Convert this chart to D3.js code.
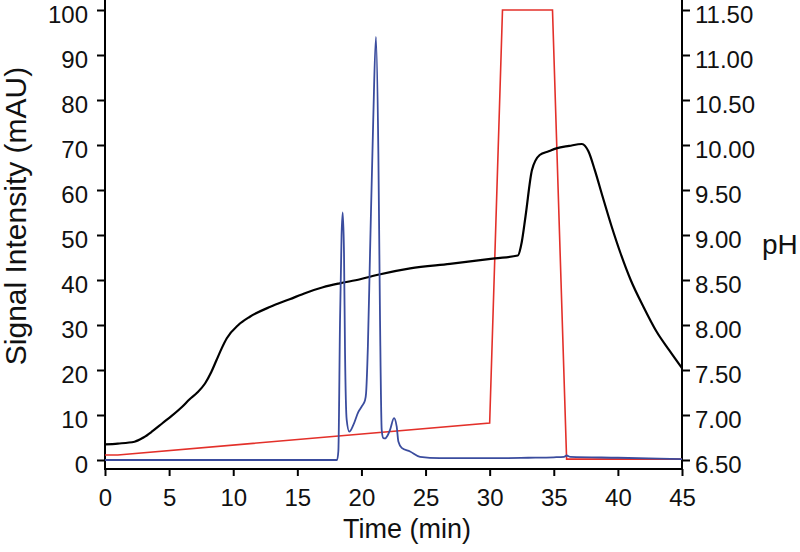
<!DOCTYPE html>
<html>
<head>
<meta charset="utf-8">
<script src="https://cdn.jsdelivr.net/npm/d3@7"></script>
<style>
  html, body { margin: 0; padding: 0; background: #fff; }
  svg { display: block; font-family: "Liberation Sans", Arial, sans-serif; }
</style>
</head>
<body>
<svg id="chart" width="800" height="552"></svg>
<script>
// ---- Data ----
const xTicks = [0, 5, 10, 15, 20, 25, 30, 35, 40, 45];
const yLeftTicks = [0, 10, 20, 30, 40, 50, 60, 70, 80, 90, 100];
const yRightTicks = [6.5, 7.0, 7.5, 8.0, 8.5, 9.0, 9.5, 10.0, 10.5, 11.0, 11.5];

// Blue: UV signal (mAU) vs time (min)
const signalTime = [0, 5, 10, 15, 18.1, 18.2, 18.33, 18.45, 18.54, 18.64, 18.72, 18.85, 19.05, 19.37, 19.76, 20.02, 20.28, 20.36, 20.5, 20.67, 20.92, 21.13, 21.32, 21.45, 21.58, 21.7, 21.84, 22.05, 22.23, 22.54, 22.75, 22.88, 23.14, 23.79, 24.57, 26.1, 28, 30, 33, 35, 35.8, 36.0, 36.3, 40, 45];
const signalMAU  = [0, 0, 0, 0, 0, 2, 31, 50, 55, 46, 23.8, 8.9, 6.3, 7.8, 10.7, 11.9, 13.3, 14.8, 25, 46, 75.6, 94, 68, 31, 6.7, 4.9, 4.8, 5.5, 6.7, 9.3, 7.4, 4.1, 2.7, 1.9, 0.7, 0.4, 0.4, 0.4, 0.5, 0.6, 0.7, 1.0, 0.7, 0.5, 0.2];

// Black: measured pH vs time (min)
const phTime = [0, 1, 2.3, 3, 3.7, 4.5, 5.2, 6.0, 6.6, 7.2, 7.8, 8.3, 8.7, 9.1, 9.5, 10.4, 11.3, 12.9, 14.4, 15.7, 17.0, 18.3, 19.9, 21.2, 23.8, 26.9, 30.4, 32.2, 32.5, 32.8, 33.3, 33.9, 34.6, 35.2, 36.2, 37.2, 37.7, 38.2, 38.8, 39.5, 40.2, 41.0, 42.0, 43.0, 44.0, 45];
const phValue = [6.674, 6.683, 6.703, 6.75, 6.82, 6.911, 6.99, 7.089, 7.175, 7.25, 7.35, 7.48, 7.611, 7.74, 7.852, 8.0, 8.092, 8.203, 8.286, 8.359, 8.419, 8.463, 8.508, 8.556, 8.63, 8.68, 8.741, 8.772, 8.92, 9.211, 9.722, 9.889, 9.93, 9.963, 9.99, 10.011, 9.93, 9.72, 9.43, 9.1, 8.8, 8.5, 8.2, 7.93, 7.72, 7.52];

// Red: pH gradient program vs time (min)
const gradTime = [0, 1, 30, 31, 34.9, 36, 45];
const gradPH   = [6.556, 6.556, 6.911, 11.5, 11.5, 6.51, 6.51];

// ---- Layout ----
const svg = d3.select("#chart");
const x = d3.scaleLinear().domain([0, 45]).range([105, 682]);
const yL = d3.scaleLinear().domain([0, 100]).range([460, 10]);
const yR = d3.scaleLinear().domain([6.5, 11.5]).range([460, 10]);
const axisY = 469;

const fontTick = 24;

// X axis
const gx = svg.append("g").attr("transform", `translate(0,${axisY})`)
  .call(d3.axisBottom(x).tickValues(xTicks).tickSize(7).tickPadding(13).tickFormat(d3.format("d")));
gx.select(".domain").remove();
gx.selectAll("line").attr("stroke", "#000").attr("stroke-width", 2);
gx.selectAll("text").attr("font-size", fontTick).attr("fill", "#111").attr("font-family", "Liberation Sans, Arial, sans-serif");
svg.append("line").attr("x1", x(0)).attr("x2", x(45)).attr("y1", axisY).attr("y2", axisY)
  .attr("stroke", "#000").attr("stroke-width", 2);

// Left axis
const gl = svg.append("g").attr("transform", `translate(${x(0)},0)`)
  .call(d3.axisLeft(yL).tickValues(yLeftTicks).tickSize(8).tickPadding(9).tickFormat(d3.format("d")));
gl.select(".domain").remove();
gl.selectAll("line").attr("stroke", "#000").attr("stroke-width", 2);
gl.selectAll("text").attr("font-size", fontTick).attr("fill", "#111").attr("dy", "0.5em").attr("font-family", "Liberation Sans, Arial, sans-serif");
svg.append("line").attr("x1", x(0)).attr("x2", x(0)).attr("y1", 0).attr("y2", axisY + 1)
  .attr("stroke", "#000").attr("stroke-width", 2);

// Right axis
const gr = svg.append("g").attr("transform", `translate(${x(45)},0)`)
  .call(d3.axisRight(yR).tickValues(yRightTicks).tickSize(8).tickPadding(5).tickFormat(d3.format(".2f")));
gr.select(".domain").remove();
gr.selectAll("line").attr("stroke", "#000").attr("stroke-width", 2);
gr.selectAll("text").attr("font-size", fontTick).attr("fill", "#111").attr("dy", "0.5em").attr("font-family", "Liberation Sans, Arial, sans-serif");
svg.append("line").attr("x1", x(45)).attr("x2", x(45)).attr("y1", 0).attr("y2", axisY + 1)
  .attr("stroke", "#000").attr("stroke-width", 2);

// Axis titles
svg.append("text").attr("x", 407).attr("y", 538).attr("text-anchor", "middle")
  .attr("font-size", 27).attr("fill", "#111").text("Time (min)");
svg.append("text").attr("transform", "translate(26,216) rotate(-90)").attr("text-anchor", "middle")
  .attr("font-size", 30).attr("fill", "#111").text("Signal Intensity (mAU)");
svg.append("text").attr("x", 762).attr("y", 254).attr("font-size", 28).attr("fill", "#111").text("pH");

// Lines
const redData = gradTime.map((t, i) => [t, gradPH[i]]);
const blackData = phTime.map((t, i) => [t, phValue[i]]);
const blueData = signalTime.map((t, i) => [t, signalMAU[i]]);

svg.append("path").datum(redData)
  .attr("fill", "none").attr("stroke", "#e3302a").attr("stroke-width", 1.6)
  .attr("d", d3.line().x(d => x(d[0])).y(d => yR(d[1])));

svg.append("path").datum(blackData)
  .attr("fill", "none").attr("stroke", "#000").attr("stroke-width", 2.2)
  .attr("d", d3.line().curve(d3.curveMonotoneX).x(d => x(d[0])).y(d => yR(d[1])));

svg.append("path").datum(blueData)
  .attr("fill", "none").attr("stroke", "#3a4c9e").attr("stroke-width", 1.8)
  .attr("d", d3.line().curve(d3.curveMonotoneX).x(d => x(d[0])).y(d => yL(d[1])));
</script>
</body>
</html>
